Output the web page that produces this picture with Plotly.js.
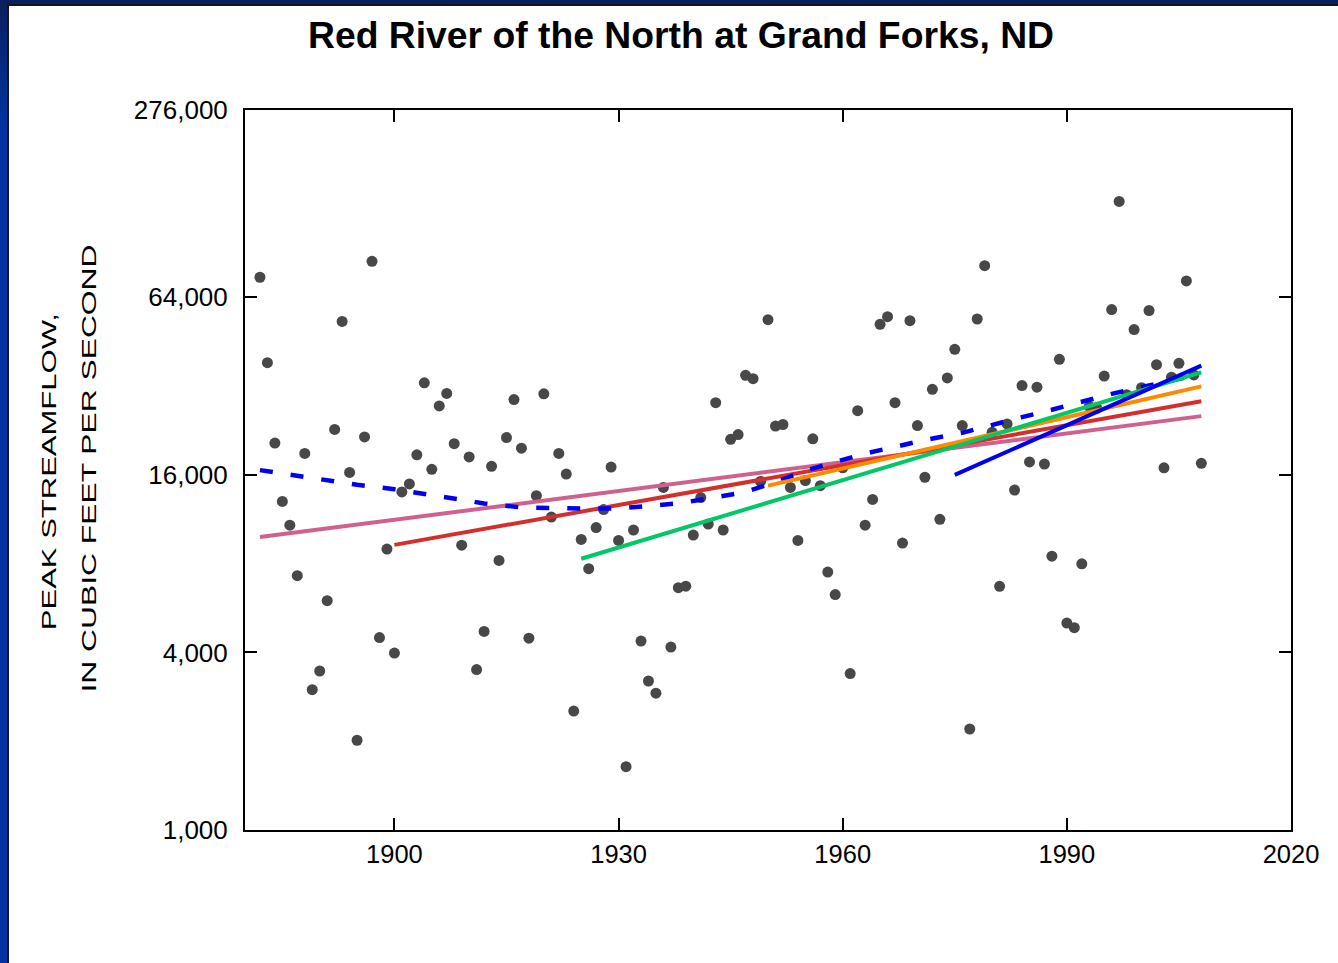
<!DOCTYPE html>
<html>
<head>
<meta charset="utf-8">
<script src="https://cdn.plot.ly/plotly-3.0.1.min.js"></script>
<style>
  html, body { margin: 0; padding: 0; background: #ffffff; }
  #chart { position: absolute; left: 0; top: 0; width: 1338px; height: 963px; }
  .frame-top { position: absolute; left: 0; top: 0; width: 1338px; height: 4px; background: #0b1f5c; }
  .frame-top-line { position: absolute; left: 7px; top: 4px; width: 1331px; height: 2px; background: #151515; }
  .frame-left { position: absolute; left: 0; top: 0; width: 7px; height: 963px;
                background: linear-gradient(to bottom, #0b1f5c 0px, #00339f 120px, #00339f 963px); }
  .frame-left-line { position: absolute; left: 7px; top: 4px; width: 2px; height: 959px; background: #151515; }
</style>
</head>
<body>
<div id="chart"></div>
<div class="frame-top"></div>
<div class="frame-left"></div>
<div class="frame-top-line"></div>
<div class="frame-left-line"></div>
<script>
// ---- Annual peak streamflow, Red River of the North at Grand Forks, ND (cfs) ----
const years = [
  1882,1883,1884,1885,1886,1887,1888,1889,1890,1891,
  1892,1893,1894,1895,1896,1897,1898,1899,1900,1901,
  1902,1903,1904,1905,1906,1907,1908,1909,1910,1911,
  1912,1913,1914,1915,1916,1917,1918,1919,1920,1921,
  1922,1923,1924,1925,1926,1927,1928,1929,1930,1931,
  1932,1933,1934,1935,1936,1937,1938,1939,1940,1941,
  1942,1943,1944,1945,1946,1947,1948,1949,1950,1951,
  1952,1953,1954,1955,1956,1957,1958,1959,1960,1961,
  1962,1963,1964,1965,1966,1967,1968,1969,1970,1971,
  1972,1973,1974,1975,1976,1977,1978,1979,1980,1981,
  1982,1983,1984,1985,1986,1987,1988,1989,1990,1991,
  1992,1993,1994,1995,1996,1997,1998,1999,2000,2001,
  2002,2003,2004,2005,2006,2007,2008
];
const peakFlow = [
  74800,38400,20500,13000,10800,7280,18900,2990,3460,5990,
  22800,53000,16300,2015,21500,84700,4490,8960,3980,14000,
  14900,18700,32800,16700,27400,30200,20400,9240,18400,3500,
  4710,17100,8200,21400,28800,19700,4470,13600,30100,11500,
  18900,16100,2530,9660,7690,10600,12200,17000,9590,1640,
  10400,4370,3200,2910,14500,4170,6630,6710,10000,13400,
  10900,28100,10400,21100,21900,34800,33900,15200,53700,23400,
  23700,14500,9590,15300,21200,14700,7490,6280,16900,3390,
  26400,10800,13200,51800,55000,28100,9390,53300,23500,15700,
  31200,11300,34100,42600,23500,2200,54000,81900,22300,6700,
  23800,14200,32100,17700,31700,17400,8480,39400,5030,4850,
  7990,27300,26900,34600,58100,135200,29900,49700,31600,57700,
  37800,16900,34300,38200,72700,34900,17500
];

// Smoothed (LOWESS-style) curve, blue dashed
const smoothYears  = [1882,1887,1891,1895,1900,1904,1908,1912,1917,1921,1925,1930,1934,1938,1942,1947,1951,1955,1959,1963,1967,1971,1976,1980,1984,1988,1992,1996,2008];
const smoothValues = [16600,15900,15300,14800,14300,13750,13300,12800,12400,12300,12300,12300,12500,12800,13300,14000,15100,16500,17700,18900,19900,21000,22200,23500,25100,26600,28400,30100,35200];

// Linear trends (log space) over different starting years, ending 2008
const trendPinkYears   = [1882, 2008]; const trendPinkValues   = [9840, 25300];
const trendRedYears    = [1900, 2008]; const trendRedValues    = [9260, 28400];
const trendGreenYears  = [1925, 2008]; const trendGreenValues  = [8310, 35600];
const trendOrangeYears = [1950, 2008]; const trendOrangeValues = [14700, 31900];
const trendBlueYears   = [1975, 2008]; const trendBlueValues   = [16000, 37500];

const xTickVals = [1900, 1930, 1960, 1990, 2020];
const xTickText = ['1900', '1930', '1960', '1990', '2020'];
const yTickVals = [1000, 4000, 16000, 64000, 276000];
const yTickText = ['1,000', '4,000', '16,000', '64,000', '276,000'];

const titleText = 'Red River of the North at Grand Forks, ND';
const yTitleLine1 = 'PEAK STREAMFLOW,';
const yTitleLine2 = 'IN CUBIC FEET PER SECOND';

const FONT = 'Liberation Sans, Arial, Helvetica, sans-serif';

function lineTrace(x, y, color, width, dash) {
  return { x: x, y: y, type: 'scatter', mode: 'lines',
           line: { color: color, width: width, dash: dash || 'solid' },
           hoverinfo: 'skip', showlegend: false };
}

const traces = [
  { x: years, y: peakFlow, type: 'scatter', mode: 'markers',
    marker: { color: '#484848', size: 11, line: { width: 0 } }, showlegend: false },
  lineTrace(trendPinkYears, trendPinkValues, '#d0618f', 4),
  lineTrace(trendRedYears, trendRedValues, '#d3302d', 4),
  lineTrace(smoothYears, smoothValues, '#0000f0', 4.5, '13px,18px'),
  lineTrace(trendOrangeYears, trendOrangeValues, '#ff8a00', 4),
  lineTrace(trendGreenYears, trendGreenValues, '#00c864', 4),
  lineTrace(trendBlueYears, trendBlueValues, '#0000f0', 4)
];

const layout = {
  width: 1338, height: 963,
  margin: { l: 245, r: 47, t: 110, b: 133, pad: 0 },
  paper_bgcolor: '#ffffff', plot_bgcolor: '#ffffff',
  showlegend: false,
  font: { family: FONT, color: '#000000' },
  title: { text: titleText, x: 681 / 1338, xanchor: 'center', xref: 'container',
           y: 1 - 35 / 963, yanchor: 'middle', yref: 'container',
           font: { family: FONT, size: 37.3, weight: 700, color: '#000000' } },
  xaxis: { type: 'linear', range: [1880, 2020], tickvals: xTickVals, ticktext: xTickText,
           ticks: 'inside', ticklen: 12, tickwidth: 2, tickcolor: '#000000',
           showline: true, linecolor: '#000000', linewidth: 2, mirror: 'allticks',
           showgrid: false, zeroline: false,
           tickfont: { family: FONT, size: 25.5, color: '#000000' } },
  yaxis: { type: 'log', range: [3, Math.log10(276000)], tickvals: yTickVals, ticktext: yTickText,
           ticks: 'inside', ticklen: 12, tickwidth: 2, tickcolor: '#000000',
           showline: true, linecolor: '#000000', linewidth: 2, mirror: 'allticks',
           showgrid: false, zeroline: false, ticklabelstandoff: 10,
           tickfont: { family: FONT, size: 26, color: '#000000' } },
  annotations: [
    { text: yTitleLine1, xref: 'paper', yref: 'paper', x: 0, y: 0.5, xshift: 48 - 245, yshift: -1.5,
      xanchor: 'center', yanchor: 'middle', textangle: -90, showarrow: false,
      font: { family: FONT, size: 20.5, color: '#000000' } },
    { text: yTitleLine2, xref: 'paper', yref: 'paper', x: 0, y: 0.5, xshift: 88 - 245, yshift: 1,
      xanchor: 'center', yanchor: 'middle', textangle: -90, showarrow: false,
      font: { family: FONT, size: 20.5, color: '#000000' } }
  ]
};

Plotly.newPlot('chart', traces, layout, { staticPlot: true, responsive: false }).then(function (gd) {
  // The original slide stretches the vertical axis title along its reading direction.
  const targetLen = {};
  targetLen[yTitleLine1] = 317;
  targetLen[yTitleLine2] = 448;
  gd.querySelectorAll('.annotation-text').forEach(function (t) {
    const len = targetLen[t.textContent];
    if (len) {
      t.setAttribute('textLength', len);
      t.setAttribute('lengthAdjust', 'spacingAndGlyphs');
    }
  });
});
</script>
</body>
</html>
